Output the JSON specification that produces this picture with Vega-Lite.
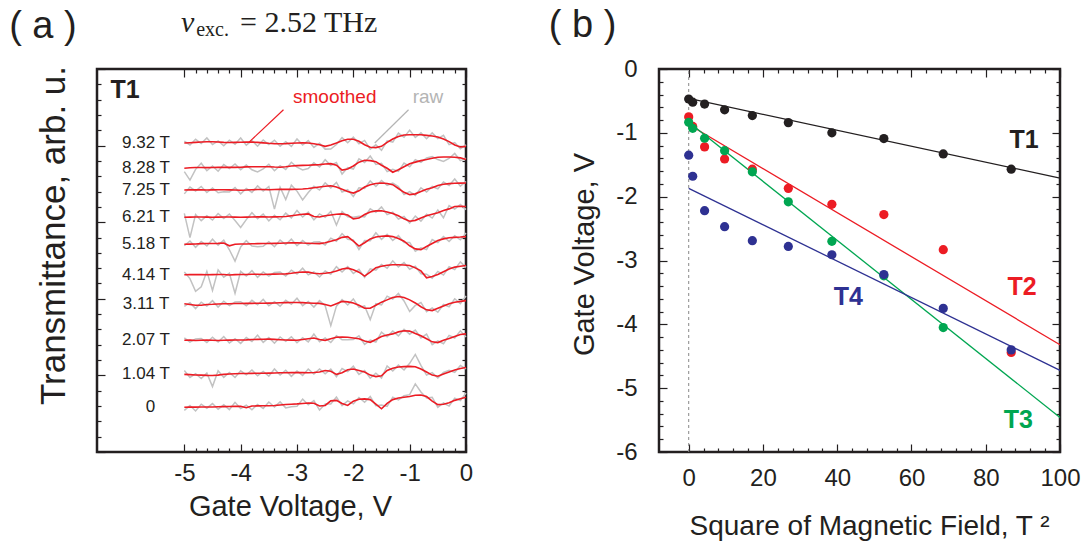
{
"$schema": "https://vega.github.io/schema/vega-lite/v6.json",
"padding": {"left": 7, "top": 5, "right": 5, "bottom": 5},
"background": "white",
"spacing": 193,
"bounds": "flush",
"config": {
  "view": {"stroke": "#231f20", "strokeWidth": 2.5},
  "axis": {"domain": false, "grid": false, "tickColor": "#231f20", "tickWidth": 1.2, "labelFont": "Liberation Sans", "labelFontSize": 24, "labelColor": "#231f20", "titleFont": "Liberation Sans", "titleColor": "#231f20", "titleFontWeight": "normal", "labelFlush": false, "labelOverlap": false, "labelBound": false},
  "text": {"font": "Liberation Sans", "color": "#231f20"}
},
"datasets": {
"tr": [
{"t":"9.32","x":-5,"s":20.17,"r":20.29},{"t":"9.32","x":-4.9,"s":20.19,"r":20.04},{"t":"9.32","x":-4.8,"s":20.21,"r":20.41},{"t":"9.32","x":-4.7,"s":20.23,"r":20.13},{"t":"9.32","x":-4.6,"s":20.25,"r":20.50},{"t":"9.32","x":-4.5,"s":20.25,"r":20.07},{"t":"9.32","x":-4.4,"s":20.23,"r":20.31},{"t":"9.32","x":-4.3,"s":20.21,"r":19.99},{"t":"9.32","x":-4.2,"s":20.20,"r":20.35},{"t":"9.32","x":-4.1,"s":20.21,"r":20.09},
{"t":"9.32","x":-4,"s":20.22,"r":20.50},{"t":"9.32","x":-3.9,"s":20.23,"r":20.03},{"t":"9.32","x":-3.8,"s":20.23,"r":20.33},{"t":"9.32","x":-3.7,"s":20.21,"r":19.96},{"t":"9.32","x":-3.6,"s":20.18,"r":20.36},{"t":"9.32","x":-3.5,"s":20.15,"r":20.07},{"t":"9.32","x":-3.4,"s":20.13,"r":20.35},{"t":"9.32","x":-3.3,"s":20.12,"r":19.96},{"t":"9.32","x":-3.2,"s":20.13,"r":20.25},{"t":"9.32","x":-3.1,"s":20.15,"r":19.95},
{"t":"9.32","x":-3,"s":20.17,"r":20.43},{"t":"9.32","x":-2.9,"s":20.18,"r":20.04},{"t":"9.32","x":-2.8,"s":20.17,"r":20.33},{"t":"9.32","x":-2.7,"s":20.12,"r":19.88},{"t":"9.32","x":-2.6,"s":20.06,"r":20.16},{"t":"9.32","x":-2.5,"s":19.95,"r":19.77},{"t":"9.32","x":-2.4,"s":20.04,"r":19.78},{"t":"9.32","x":-2.3,"s":20.17,"r":20.07},{"t":"9.32","x":-2.2,"s":20.32,"r":20.52},{"t":"9.32","x":-2.1,"s":20.41,"r":20.19},
{"t":"9.32","x":-2,"s":20.41,"r":20.55},{"t":"9.32","x":-1.9,"s":20.28,"r":20.12},{"t":"9.32","x":-1.8,"s":20.06,"r":20.34},{"t":"9.32","x":-1.7,"s":19.89,"r":19.77},{"t":"9.32","x":-1.6,"s":19.87,"r":20.05},{"t":"9.32","x":-1.5,"s":19.95,"r":19.69},{"t":"9.32","x":-1.4,"s":20.21,"r":20.31},{"t":"9.32","x":-1.3,"s":20.43,"r":20.23},{"t":"9.32","x":-1.2,"s":20.60,"r":20.82},{"t":"9.32","x":-1.1,"s":20.69,"r":20.55},
{"t":"9.32","x":-1,"s":20.71,"r":21.01},{"t":"9.32","x":-0.9,"s":20.71,"r":20.53},{"t":"9.32","x":-0.8,"s":20.71,"r":20.83},{"t":"9.32","x":-0.7,"s":20.67,"r":20.45},{"t":"9.32","x":-0.6,"s":20.63,"r":20.83},{"t":"9.32","x":-0.5,"s":20.56,"r":20.46},{"t":"9.32","x":-0.4,"s":20.43,"r":20.67},{"t":"9.32","x":-0.3,"s":20.26,"r":20.06},{"t":"9.32","x":-0.2,"s":20.04,"r":20.20},{"t":"9.32","x":-0.1,"s":19.91,"r":19.79},{"t":"9.32","x":0,"s":19.95,"r":20.05},

{"t":"8.28","x":-5,"s":18.52,"r":18.30},{"t":"8.28","x":-4.9,"s":18.55,"r":17.75},{"t":"8.28","x":-4.8,"s":18.57,"r":18.45},{"t":"8.28","x":-4.7,"s":18.57,"r":18.85},{"t":"8.28","x":-4.6,"s":18.56,"r":18.36},{"t":"8.28","x":-4.5,"s":18.57,"r":18.67},{"t":"8.28","x":-4.4,"s":18.58,"r":18.33},{"t":"8.28","x":-4.3,"s":18.59,"r":18.77},{"t":"8.28","x":-4.2,"s":18.58,"r":18.50},{"t":"8.28","x":-4.1,"s":18.58,"r":18.80},
{"t":"8.28","x":-4,"s":18.59,"r":18.43},{"t":"8.28","x":-3.9,"s":18.61,"r":18.73},{"t":"8.28","x":-3.8,"s":18.62,"r":18.42},{"t":"8.28","x":-3.7,"s":18.62,"r":18.28},{"t":"8.28","x":-3.6,"s":18.62,"r":18.48},{"t":"8.28","x":-3.5,"s":18.62,"r":18.78},{"t":"8.28","x":-3.4,"s":18.60,"r":18.36},{"t":"8.28","x":-3.3,"s":18.59,"r":18.69},{"t":"8.28","x":-3.2,"s":18.62,"r":18.44},{"t":"8.28","x":-3.1,"s":18.67,"r":18.91},
{"t":"8.28","x":-3,"s":18.69,"r":18.59},{"t":"8.28","x":-2.9,"s":18.71,"r":18.41},{"t":"8.28","x":-2.8,"s":18.72,"r":18.50},{"t":"8.28","x":-2.7,"s":18.74,"r":18.88},{"t":"8.28","x":-2.6,"s":18.76,"r":18.60},{"t":"8.28","x":-2.5,"s":18.80,"r":19.08},{"t":"8.28","x":-2.4,"s":18.82,"r":18.70},{"t":"8.28","x":-2.3,"s":18.72,"r":18.90},{"t":"8.28","x":-2.2,"s":18.40,"r":18.14},{"t":"8.28","x":-2.1,"s":18.47,"r":18.57},
{"t":"8.28","x":-2,"s":18.67,"r":18.47},{"t":"8.28","x":-1.9,"s":18.92,"r":19.14},{"t":"8.28","x":-1.8,"s":19.04,"r":18.90},{"t":"8.28","x":-1.7,"s":19.02,"r":19.32},{"t":"8.28","x":-1.6,"s":18.95,"r":18.77},{"t":"8.28","x":-1.5,"s":18.72,"r":18.84},{"t":"8.28","x":-1.4,"s":18.52,"r":18.30},{"t":"8.28","x":-1.3,"s":18.26,"r":18.46},{"t":"8.28","x":-1.2,"s":18.42,"r":18.32},{"t":"8.28","x":-1.1,"s":18.62,"r":18.86},
{"t":"8.28","x":-1,"s":18.82,"r":18.62},{"t":"8.28","x":-0.9,"s":18.92,"r":19.08},{"t":"8.28","x":-0.8,"s":19.02,"r":18.90},{"t":"8.28","x":-0.7,"s":19.09,"r":19.19},{"t":"8.28","x":-0.6,"s":19.17,"r":19.29},{"t":"8.28","x":-0.5,"s":19.24,"r":19.09},{"t":"8.28","x":-0.4,"s":19.26,"r":18.96},{"t":"8.28","x":-0.3,"s":19.26,"r":19.16},{"t":"8.28","x":-0.2,"s":19.24,"r":19.49},{"t":"8.28","x":-0.1,"s":19.20,"r":19.02},{"t":"8.28","x":0,"s":19.09,"r":19.17},

{"t":"7.25","x":-5,"s":17.10,"r":16.85},{"t":"7.25","x":-4.9,"s":17.11,"r":17.29},{"t":"7.25","x":-4.8,"s":17.12,"r":17.04},{"t":"7.25","x":-4.7,"s":17.11,"r":17.33},{"t":"7.25","x":-4.6,"s":17.10,"r":16.94},{"t":"7.25","x":-4.5,"s":17.11,"r":17.23},{"t":"7.25","x":-4.4,"s":17.12,"r":16.92},{"t":"7.25","x":-4.3,"s":17.12,"r":16.98},{"t":"7.25","x":-4.2,"s":17.11,"r":16.97},{"t":"7.25","x":-4.1,"s":17.10,"r":17.26},
{"t":"7.25","x":-4,"s":17.09,"r":16.85},{"t":"7.25","x":-3.9,"s":17.10,"r":17.20},{"t":"7.25","x":-3.8,"s":17.12,"r":16.94},{"t":"7.25","x":-3.7,"s":17.13,"r":17.37},{"t":"7.25","x":-3.6,"s":17.13,"r":17.03},{"t":"7.25","x":-3.5,"s":17.12,"r":17.32},{"t":"7.25","x":-3.4,"s":17.13,"r":15.85},{"t":"7.25","x":-3.3,"s":17.14,"r":17.28},{"t":"7.25","x":-3.2,"s":17.14,"r":16.48},{"t":"7.25","x":-3.1,"s":17.14,"r":17.42},
{"t":"7.25","x":-3,"s":17.15,"r":17.03},{"t":"7.25","x":-2.9,"s":17.17,"r":16.45},{"t":"7.25","x":-2.8,"s":17.20,"r":16.94},{"t":"7.25","x":-2.7,"s":17.25,"r":17.35},{"t":"7.25","x":-2.6,"s":17.30,"r":17.10},{"t":"7.25","x":-2.5,"s":17.35,"r":17.57},{"t":"7.25","x":-2.4,"s":17.38,"r":17.24},{"t":"7.25","x":-2.3,"s":17.30,"r":17.60},{"t":"7.25","x":-2.2,"s":17.15,"r":16.97},{"t":"7.25","x":-2.1,"s":17.00,"r":17.12},
{"t":"7.25","x":-2,"s":16.90,"r":16.68},{"t":"7.25","x":-1.9,"s":17.05,"r":17.25},{"t":"7.25","x":-1.8,"s":17.30,"r":17.20},{"t":"7.25","x":-1.7,"s":17.45,"r":17.69},{"t":"7.25","x":-1.6,"s":17.53,"r":17.33},{"t":"7.25","x":-1.5,"s":17.56,"r":17.72},{"t":"7.25","x":-1.4,"s":17.53,"r":17.41},{"t":"7.25","x":-1.3,"s":17.45,"r":17.55},{"t":"7.25","x":-1.2,"s":17.20,"r":17.32},{"t":"7.25","x":-1.1,"s":16.95,"r":16.80},
{"t":"7.25","x":-1,"s":16.80,"r":17.00},{"t":"7.25","x":-0.9,"s":16.85,"r":16.75},{"t":"7.25","x":-0.8,"s":17.00,"r":17.25},{"t":"7.25","x":-0.7,"s":17.15,"r":16.97},{"t":"7.25","x":-0.6,"s":17.25,"r":17.33},{"t":"7.25","x":-0.5,"s":17.40,"r":17.18},{"t":"7.25","x":-0.4,"s":17.48,"r":17.63},{"t":"7.25","x":-0.3,"s":17.52,"r":17.40},{"t":"7.25","x":-0.2,"s":17.54,"r":17.82},{"t":"7.25","x":-0.1,"s":17.55,"r":17.35},{"t":"7.25","x":0,"s":17.56,"r":17.66},

{"t":"6.21","x":-5,"s":15.32,"r":15.58},{"t":"6.21","x":-4.9,"s":15.33,"r":13.99},{"t":"6.21","x":-4.8,"s":15.34,"r":15.50},{"t":"6.21","x":-4.7,"s":15.34,"r":15.10},{"t":"6.21","x":-4.6,"s":15.33,"r":15.43},{"t":"6.21","x":-4.5,"s":15.32,"r":15.14},{"t":"6.21","x":-4.4,"s":15.33,"r":15.57},{"t":"6.21","x":-4.3,"s":15.34,"r":15.24},{"t":"6.21","x":-4.2,"s":15.34,"r":15.54},{"t":"6.21","x":-4.1,"s":15.33,"r":15.11},
{"t":"6.21","x":-4,"s":15.32,"r":14.66},{"t":"6.21","x":-3.9,"s":15.33,"r":15.17},{"t":"6.21","x":-3.8,"s":15.34,"r":15.62},{"t":"6.21","x":-3.7,"s":15.35,"r":15.23},{"t":"6.21","x":-3.6,"s":15.35,"r":15.53},{"t":"6.21","x":-3.5,"s":15.34,"r":15.08},{"t":"6.21","x":-3.4,"s":15.35,"r":15.45},{"t":"6.21","x":-3.3,"s":15.36,"r":15.16},{"t":"6.21","x":-3.2,"s":15.37,"r":15.59},{"t":"6.21","x":-3.1,"s":15.42,"r":15.28},
{"t":"6.21","x":-3,"s":15.47,"r":15.77},{"t":"6.21","x":-2.9,"s":15.52,"r":15.34},{"t":"6.21","x":-2.8,"s":15.54,"r":15.66},{"t":"6.21","x":-2.7,"s":15.37,"r":15.15},{"t":"6.21","x":-2.6,"s":15.34,"r":15.54},{"t":"6.21","x":-2.5,"s":15.42,"r":15.32},{"t":"6.21","x":-2.4,"s":15.47,"r":15.71},{"t":"6.21","x":-2.3,"s":15.52,"r":14.82},{"t":"6.21","x":-2.2,"s":15.54,"r":15.70},{"t":"6.21","x":-2.1,"s":15.47,"r":15.35},
{"t":"6.21","x":-2,"s":15.22,"r":15.32},{"t":"6.21","x":-1.9,"s":15.27,"r":15.39},{"t":"6.21","x":-1.8,"s":15.50,"r":15.35},{"t":"6.21","x":-1.7,"s":15.67,"r":15.87},{"t":"6.21","x":-1.6,"s":15.74,"r":15.64},{"t":"6.21","x":-1.5,"s":15.75,"r":16.00},{"t":"6.21","x":-1.4,"s":15.67,"r":15.49},{"t":"6.21","x":-1.3,"s":15.57,"r":15.65},{"t":"6.21","x":-1.2,"s":15.42,"r":15.20},{"t":"6.21","x":-1.1,"s":15.22,"r":15.37},
{"t":"6.21","x":-1,"s":15.06,"r":14.94},{"t":"6.21","x":-0.9,"s":15.12,"r":15.40},{"t":"6.21","x":-0.8,"s":15.27,"r":15.07},{"t":"6.21","x":-0.7,"s":15.42,"r":15.52},{"t":"6.21","x":-0.6,"s":15.52,"r":15.27},{"t":"6.21","x":-0.5,"s":15.62,"r":15.80},{"t":"6.21","x":-0.4,"s":15.77,"r":15.29},{"t":"6.21","x":-0.3,"s":15.87,"r":16.09},{"t":"6.21","x":-0.2,"s":16.02,"r":15.86},{"t":"6.21","x":-0.1,"s":16.04,"r":16.16},{"t":"6.21","x":0,"s":16.02,"r":15.82},

{"t":"5.18","x":-5,"s":13.56,"r":13.46},{"t":"5.18","x":-4.9,"s":13.57,"r":13.77},{"t":"5.18","x":-4.8,"s":13.58,"r":13.36},{"t":"5.18","x":-4.7,"s":13.60,"r":13.74},{"t":"5.18","x":-4.6,"s":13.61,"r":13.45},{"t":"5.18","x":-4.5,"s":13.61,"r":13.89},{"t":"5.18","x":-4.4,"s":13.62,"r":13.50},{"t":"5.18","x":-4.3,"s":13.64,"r":13.82},{"t":"5.18","x":-4.2,"s":13.46,"r":13.20},{"t":"5.18","x":-4.1,"s":13.56,"r":12.46},
{"t":"5.18","x":-4,"s":13.58,"r":13.38},{"t":"5.18","x":-3.9,"s":13.58,"r":13.80},{"t":"5.18","x":-3.8,"s":13.59,"r":13.45},{"t":"5.18","x":-3.7,"s":13.60,"r":13.40},{"t":"5.18","x":-3.6,"s":13.61,"r":13.43},{"t":"5.18","x":-3.5,"s":13.61,"r":13.73},{"t":"5.18","x":-3.4,"s":13.62,"r":13.40},{"t":"5.18","x":-3.3,"s":13.63,"r":13.83},{"t":"5.18","x":-3.2,"s":13.64,"r":13.54},{"t":"5.18","x":-3.1,"s":13.65,"r":13.89},
{"t":"5.18","x":-3,"s":13.66,"r":13.46},{"t":"5.18","x":-2.9,"s":13.64,"r":13.80},{"t":"5.18","x":-2.8,"s":13.63,"r":13.51},{"t":"5.18","x":-2.7,"s":13.61,"r":13.71},{"t":"5.18","x":-2.6,"s":13.60,"r":13.72},{"t":"5.18","x":-2.5,"s":13.66,"r":13.51},{"t":"5.18","x":-2.4,"s":13.76,"r":13.96},{"t":"5.18","x":-2.3,"s":13.86,"r":13.76},{"t":"5.18","x":-2.2,"s":14.01,"r":14.26},{"t":"5.18","x":-2.1,"s":14.06,"r":13.88},
{"t":"5.18","x":-2,"s":13.76,"r":13.84},{"t":"5.18","x":-1.9,"s":13.44,"r":13.22},{"t":"5.18","x":-1.8,"s":13.66,"r":13.81},{"t":"5.18","x":-1.7,"s":13.91,"r":13.79},{"t":"5.18","x":-1.6,"s":14.03,"r":14.31},{"t":"5.18","x":-1.5,"s":14.08,"r":13.88},{"t":"5.18","x":-1.4,"s":14.11,"r":14.21},{"t":"5.18","x":-1.3,"s":14.06,"r":13.81},{"t":"5.18","x":-1.2,"s":13.94,"r":14.12},{"t":"5.18","x":-1.1,"s":13.76,"r":13.68},
{"t":"5.18","x":-1,"s":13.46,"r":13.68},{"t":"5.18","x":-0.9,"s":13.26,"r":13.10},{"t":"5.18","x":-0.8,"s":13.21,"r":13.33},{"t":"5.18","x":-0.7,"s":13.41,"r":13.21},{"t":"5.18","x":-0.6,"s":13.61,"r":13.87},{"t":"5.18","x":-0.5,"s":13.81,"r":13.67},{"t":"5.18","x":-0.4,"s":13.91,"r":14.07},{"t":"5.18","x":-0.3,"s":13.98,"r":13.74},{"t":"5.18","x":-0.2,"s":14.01,"r":14.11},{"t":"5.18","x":-0.1,"s":14.03,"r":13.85},{"t":"5.18","x":0,"s":14.06,"r":14.30},

{"t":"4.14","x":-5,"s":11.57,"r":11.75},{"t":"4.14","x":-4.9,"s":11.58,"r":11.32},{"t":"4.14","x":-4.8,"s":11.59,"r":10.49},{"t":"4.14","x":-4.7,"s":11.58,"r":10.78},{"t":"4.14","x":-4.6,"s":11.57,"r":11.79},{"t":"4.14","x":-4.5,"s":11.58,"r":10.54},{"t":"4.14","x":-4.4,"s":11.59,"r":11.89},{"t":"4.14","x":-4.3,"s":11.59,"r":11.41},{"t":"4.14","x":-4.2,"s":11.55,"r":11.67},{"t":"4.14","x":-4.1,"s":11.58,"r":10.36},
{"t":"4.14","x":-4,"s":11.59,"r":11.79},{"t":"4.14","x":-3.9,"s":11.59,"r":11.49},{"t":"4.14","x":-3.8,"s":11.60,"r":11.84},{"t":"4.14","x":-3.7,"s":11.60,"r":11.40},{"t":"4.14","x":-3.6,"s":11.59,"r":11.75},{"t":"4.14","x":-3.5,"s":11.60,"r":11.48},{"t":"4.14","x":-3.4,"s":11.61,"r":11.71},{"t":"4.14","x":-3.3,"s":11.62,"r":11.74},{"t":"4.14","x":-3.2,"s":11.63,"r":11.48},{"t":"4.14","x":-3.1,"s":11.67,"r":11.87},
{"t":"4.14","x":-3,"s":11.72,"r":11.62},{"t":"4.14","x":-2.9,"s":11.75,"r":12.00},{"t":"4.14","x":-2.8,"s":11.74,"r":11.56},{"t":"4.14","x":-2.7,"s":11.67,"r":11.75},{"t":"4.14","x":-2.6,"s":11.64,"r":11.42},{"t":"4.14","x":-2.5,"s":11.67,"r":11.82},{"t":"4.14","x":-2.4,"s":11.72,"r":11.60},{"t":"4.14","x":-2.3,"s":11.82,"r":12.10},{"t":"4.14","x":-2.2,"s":11.95,"r":11.75},{"t":"4.14","x":-2.1,"s":12.00,"r":12.10},
{"t":"4.14","x":-2,"s":11.90,"r":11.65},{"t":"4.14","x":-1.9,"s":11.74,"r":11.92},{"t":"4.14","x":-1.8,"s":11.48,"r":11.40},{"t":"4.14","x":-1.7,"s":11.74,"r":11.96},{"t":"4.14","x":-1.6,"s":12.03,"r":11.87},{"t":"4.14","x":-1.5,"s":12.12,"r":12.24},{"t":"4.14","x":-1.4,"s":12.19,"r":11.99},{"t":"4.14","x":-1.3,"s":12.22,"r":12.48},{"t":"4.14","x":-1.2,"s":12.22,"r":12.08},{"t":"4.14","x":-1.1,"s":12.21,"r":12.37},
{"t":"4.14","x":-1,"s":12.17,"r":11.93},{"t":"4.14","x":-0.9,"s":12.02,"r":12.12},{"t":"4.14","x":-0.8,"s":11.82,"r":11.64},{"t":"4.14","x":-0.7,"s":11.37,"r":11.61},{"t":"4.14","x":-0.6,"s":11.45,"r":11.35},{"t":"4.14","x":-0.5,"s":11.59,"r":11.79},{"t":"4.14","x":-0.4,"s":11.77,"r":11.55},{"t":"4.14","x":-0.3,"s":11.95,"r":12.09},{"t":"4.14","x":-0.2,"s":12.07,"r":11.91},{"t":"4.14","x":-0.1,"s":12.13,"r":12.41},{"t":"4.14","x":0,"s":12.17,"r":12.05},

{"t":"3.11","x":-5,"s":9.68,"r":9.50},{"t":"3.11","x":-4.9,"s":9.63,"r":9.75},{"t":"3.11","x":-4.8,"s":9.58,"r":9.36},{"t":"3.11","x":-4.7,"s":9.58,"r":9.78},{"t":"3.11","x":-4.6,"s":9.63,"r":9.53},{"t":"3.11","x":-4.5,"s":9.64,"r":9.88},{"t":"3.11","x":-4.4,"s":9.66,"r":9.46},{"t":"3.11","x":-4.3,"s":9.68,"r":9.84},{"t":"3.11","x":-4.2,"s":9.68,"r":9.56},{"t":"3.11","x":-4.1,"s":9.69,"r":9.79},
{"t":"3.11","x":-4,"s":9.69,"r":9.81},{"t":"3.11","x":-3.9,"s":9.70,"r":9.55},{"t":"3.11","x":-3.8,"s":9.70,"r":9.90},{"t":"3.11","x":-3.7,"s":9.71,"r":9.61},{"t":"3.11","x":-3.6,"s":9.71,"r":9.96},{"t":"3.11","x":-3.5,"s":9.72,"r":9.54},{"t":"3.11","x":-3.4,"s":9.73,"r":9.81},{"t":"3.11","x":-3.3,"s":9.74,"r":9.52},{"t":"3.11","x":-3.2,"s":9.75,"r":9.90},{"t":"3.11","x":-3.1,"s":9.76,"r":9.64},
{"t":"3.11","x":-3,"s":9.76,"r":10.04},{"t":"3.11","x":-2.9,"s":9.75,"r":9.55},{"t":"3.11","x":-2.8,"s":9.73,"r":9.83},{"t":"3.11","x":-2.7,"s":9.71,"r":9.46},{"t":"3.11","x":-2.6,"s":9.70,"r":9.88},{"t":"3.11","x":-2.5,"s":9.63,"r":9.55},{"t":"3.11","x":-2.4,"s":9.53,"r":8.25},{"t":"3.11","x":-2.3,"s":9.68,"r":9.52},{"t":"3.11","x":-2.2,"s":9.83,"r":9.95},{"t":"3.11","x":-2.1,"s":9.80,"r":9.60},
{"t":"3.11","x":-2,"s":9.73,"r":9.99},{"t":"3.11","x":-1.9,"s":9.58,"r":9.44},{"t":"3.11","x":-1.8,"s":9.38,"r":9.54},{"t":"3.11","x":-1.7,"s":9.38,"r":8.64},{"t":"3.11","x":-1.6,"s":9.58,"r":9.68},{"t":"3.11","x":-1.5,"s":9.78,"r":9.60},{"t":"3.11","x":-1.4,"s":9.93,"r":10.17},{"t":"3.11","x":-1.3,"s":10.08,"r":9.98},{"t":"3.11","x":-1.2,"s":10.15,"r":10.35},{"t":"3.11","x":-1.1,"s":10.08,"r":9.86},
{"t":"3.11","x":-1,"s":9.93,"r":9.17},{"t":"3.11","x":-0.9,"s":9.73,"r":9.57},{"t":"3.11","x":-0.8,"s":9.48,"r":9.76},{"t":"3.11","x":-0.7,"s":9.28,"r":9.16},{"t":"3.11","x":-0.6,"s":9.23,"r":9.41},{"t":"3.11","x":-0.5,"s":9.38,"r":9.12},{"t":"3.11","x":-0.4,"s":9.53,"r":9.63},{"t":"3.11","x":-0.3,"s":9.68,"r":9.48},{"t":"3.11","x":-0.2,"s":9.78,"r":10.00},{"t":"3.11","x":-0.1,"s":9.83,"r":9.69},{"t":"3.11","x":0,"s":9.88,"r":10.18},

{"t":"2.07","x":-5,"s":7.29,"r":7.45},{"t":"2.07","x":-4.9,"s":7.30,"r":7.18},{"t":"2.07","x":-4.8,"s":7.28,"r":7.38},{"t":"2.07","x":-4.7,"s":7.29,"r":7.41},{"t":"2.07","x":-4.6,"s":7.30,"r":7.15},{"t":"2.07","x":-4.5,"s":7.29,"r":7.49},{"t":"2.07","x":-4.4,"s":7.28,"r":7.18},{"t":"2.07","x":-4.3,"s":7.29,"r":7.54},{"t":"2.07","x":-4.2,"s":7.30,"r":7.12},{"t":"2.07","x":-4.1,"s":7.31,"r":7.39},
{"t":"2.07","x":-4,"s":7.31,"r":7.09},{"t":"2.07","x":-3.9,"s":7.32,"r":7.47},{"t":"2.07","x":-3.8,"s":7.34,"r":7.22},{"t":"2.07","x":-3.7,"s":7.35,"r":7.63},{"t":"2.07","x":-3.6,"s":7.36,"r":7.16},{"t":"2.07","x":-3.5,"s":7.37,"r":7.47},{"t":"2.07","x":-3.4,"s":7.35,"r":7.10},{"t":"2.07","x":-3.3,"s":7.33,"r":7.51},{"t":"2.07","x":-3.2,"s":7.31,"r":7.23},{"t":"2.07","x":-3.1,"s":7.30,"r":7.52},
{"t":"2.07","x":-3,"s":7.29,"r":7.13},{"t":"2.07","x":-2.9,"s":7.34,"r":7.46},{"t":"2.07","x":-2.8,"s":7.39,"r":7.19},{"t":"2.07","x":-2.7,"s":7.44,"r":7.70},{"t":"2.07","x":-2.6,"s":7.34,"r":7.20},{"t":"2.07","x":-2.5,"s":7.29,"r":7.45},{"t":"2.07","x":-2.4,"s":7.39,"r":7.15},{"t":"2.07","x":-2.3,"s":7.49,"r":7.59},{"t":"2.07","x":-2.2,"s":7.51,"r":7.33},{"t":"2.07","x":-2.1,"s":7.49,"r":7.33},
{"t":"2.07","x":-2,"s":7.44,"r":7.34},{"t":"2.07","x":-1.9,"s":7.39,"r":7.59},{"t":"2.07","x":-1.8,"s":7.24,"r":7.02},{"t":"2.07","x":-1.7,"s":7.16,"r":7.30},{"t":"2.07","x":-1.6,"s":7.34,"r":7.18},{"t":"2.07","x":-1.5,"s":7.54,"r":7.82},{"t":"2.07","x":-1.4,"s":7.64,"r":7.52},{"t":"2.07","x":-1.3,"s":7.71,"r":7.89},{"t":"2.07","x":-1.2,"s":7.84,"r":7.58},{"t":"2.07","x":-1.1,"s":7.91,"r":8.01},
{"t":"2.07","x":-1,"s":7.89,"r":7.69},{"t":"2.07","x":-0.9,"s":7.74,"r":7.96},{"t":"2.07","x":-0.8,"s":7.59,"r":7.45},{"t":"2.07","x":-0.7,"s":7.39,"r":7.69},{"t":"2.07","x":-0.6,"s":7.19,"r":7.01},{"t":"2.07","x":-0.5,"s":7.14,"r":7.26},{"t":"2.07","x":-0.4,"s":7.29,"r":7.07},{"t":"2.07","x":-0.3,"s":7.41,"r":7.61},{"t":"2.07","x":-0.2,"s":7.54,"r":7.44},{"t":"2.07","x":-0.1,"s":7.67,"r":7.91},{"t":"2.07","x":0,"s":7.71,"r":7.51},

{"t":"1.04","x":-5,"s":5.07,"r":5.32},{"t":"1.04","x":-4.9,"s":5.05,"r":4.87},{"t":"1.04","x":-4.8,"s":5.03,"r":5.11},{"t":"1.04","x":-4.7,"s":5.02,"r":4.80},{"t":"1.04","x":-4.6,"s":5.00,"r":5.15},{"t":"1.04","x":-4.5,"s":4.99,"r":4.27},{"t":"1.04","x":-4.4,"s":5.02,"r":5.30},{"t":"1.04","x":-4.3,"s":5.07,"r":4.87},{"t":"1.04","x":-4.2,"s":5.09,"r":5.19},{"t":"1.04","x":-4.1,"s":5.11,"r":4.86},
{"t":"1.04","x":-4,"s":5.12,"r":5.30},{"t":"1.04","x":-3.9,"s":5.12,"r":5.04},{"t":"1.04","x":-3.8,"s":5.13,"r":5.35},{"t":"1.04","x":-3.7,"s":5.14,"r":4.98},{"t":"1.04","x":-3.6,"s":5.14,"r":5.26},{"t":"1.04","x":-3.5,"s":5.15,"r":4.95},{"t":"1.04","x":-3.4,"s":5.16,"r":5.42},{"t":"1.04","x":-3.3,"s":5.17,"r":5.03},{"t":"1.04","x":-3.2,"s":5.17,"r":5.33},{"t":"1.04","x":-3.1,"s":5.18,"r":4.94},
{"t":"1.04","x":-3,"s":5.19,"r":5.29},{"t":"1.04","x":-2.9,"s":5.18,"r":5.00},{"t":"1.04","x":-2.8,"s":5.17,"r":5.41},{"t":"1.04","x":-2.7,"s":5.19,"r":5.09},{"t":"1.04","x":-2.6,"s":5.22,"r":5.42},{"t":"1.04","x":-2.5,"s":5.32,"r":5.10},{"t":"1.04","x":-2.4,"s":5.27,"r":5.41},{"t":"1.04","x":-2.3,"s":5.07,"r":4.91},{"t":"1.04","x":-2.2,"s":5.17,"r":5.45},{"t":"1.04","x":-2.1,"s":5.37,"r":5.25},
{"t":"1.04","x":-2,"s":5.42,"r":5.60},{"t":"1.04","x":-1.9,"s":5.32,"r":5.06},{"t":"1.04","x":-1.8,"s":5.22,"r":5.32},{"t":"1.04","x":-1.7,"s":5.02,"r":4.82},{"t":"1.04","x":-1.6,"s":4.92,"r":5.14},{"t":"1.04","x":-1.5,"s":4.97,"r":4.83},{"t":"1.04","x":-1.4,"s":5.32,"r":5.62},{"t":"1.04","x":-1.3,"s":5.47,"r":5.29},{"t":"1.04","x":-1.2,"s":5.55,"r":5.67},{"t":"1.04","x":-1.1,"s":5.57,"r":5.35},
{"t":"1.04","x":-1,"s":5.59,"r":5.79},{"t":"1.04","x":-0.9,"s":5.57,"r":6.37},{"t":"1.04","x":-0.8,"s":5.42,"r":5.66},{"t":"1.04","x":-0.7,"s":5.22,"r":5.02},{"t":"1.04","x":-0.6,"s":5.02,"r":5.18},{"t":"1.04","x":-0.5,"s":4.95,"r":4.83},{"t":"1.04","x":-0.4,"s":5.09,"r":5.19},{"t":"1.04","x":-0.3,"s":5.22,"r":5.34},{"t":"1.04","x":-0.2,"s":5.35,"r":5.20},{"t":"1.04","x":-0.1,"s":5.45,"r":5.65},{"t":"1.04","x":0,"s":5.52,"r":5.42},

{"t":"0","x":-5,"s":2.92,"r":2.72},{"t":"0","x":-4.9,"s":2.93,"r":3.03},{"t":"0","x":-4.8,"s":2.93,"r":2.68},{"t":"0","x":-4.7,"s":2.94,"r":3.12},{"t":"0","x":-4.6,"s":2.94,"r":2.86},{"t":"0","x":-4.5,"s":2.94,"r":3.16},{"t":"0","x":-4.4,"s":2.95,"r":2.79},{"t":"0","x":-4.3,"s":2.96,"r":3.08},{"t":"0","x":-4.2,"s":2.97,"r":2.77},{"t":"0","x":-4.1,"s":2.98,"r":3.24},
{"t":"0","x":-4,"s":2.98,"r":2.84},{"t":"0","x":-3.9,"s":2.89,"r":3.05},{"t":"0","x":-3.8,"s":3.00,"r":2.76},{"t":"0","x":-3.7,"s":3.01,"r":3.11},{"t":"0","x":-3.6,"s":3.02,"r":2.84},{"t":"0","x":-3.5,"s":3.02,"r":3.26},{"t":"0","x":-3.4,"s":3.04,"r":2.94},{"t":"0","x":-3.3,"s":3.07,"r":3.27},{"t":"0","x":-3.2,"s":3.10,"r":2.88},{"t":"0","x":-3.1,"s":3.12,"r":2.96},
{"t":"0","x":-3,"s":3.14,"r":2.98},{"t":"0","x":-2.9,"s":3.17,"r":3.45},{"t":"0","x":-2.8,"s":3.20,"r":3.08},{"t":"0","x":-2.7,"s":3.18,"r":3.36},{"t":"0","x":-2.6,"s":3.00,"r":2.74},{"t":"0","x":-2.5,"s":3.04,"r":3.14},{"t":"0","x":-2.4,"s":3.34,"r":3.14},{"t":"0","x":-2.3,"s":3.37,"r":3.59},{"t":"0","x":-2.2,"s":3.17,"r":3.03},{"t":"0","x":-2.1,"s":3.04,"r":3.34},
{"t":"0","x":-2,"s":3.32,"r":3.14},{"t":"0","x":-1.9,"s":3.44,"r":3.56},{"t":"0","x":-1.8,"s":3.47,"r":3.25},{"t":"0","x":-1.7,"s":3.42,"r":3.62},{"t":"0","x":-1.6,"s":3.12,"r":3.02},{"t":"0","x":-1.5,"s":2.82,"r":3.06},{"t":"0","x":-1.4,"s":3.17,"r":2.97},{"t":"0","x":-1.3,"s":3.42,"r":3.58},{"t":"0","x":-1.2,"s":3.52,"r":3.40},{"t":"0","x":-1.1,"s":3.57,"r":3.67},
{"t":"0","x":-1,"s":3.62,"r":3.74},{"t":"0","x":-0.9,"s":3.70,"r":4.45},{"t":"0","x":-0.8,"s":3.72,"r":3.92},{"t":"0","x":-0.7,"s":3.62,"r":3.52},{"t":"0","x":-0.6,"s":3.32,"r":3.57},{"t":"0","x":-0.5,"s":3.09,"r":2.91},{"t":"0","x":-0.4,"s":3.12,"r":3.20},{"t":"0","x":-0.3,"s":3.22,"r":3.00},{"t":"0","x":-0.2,"s":3.37,"r":3.52},{"t":"0","x":-0.1,"s":3.47,"r":3.35},{"t":"0","x":0,"s":3.57,"r":3.85}
],
"pts": [
{"s":"T2","x":0,"y":-0.75},{"s":"T2","x":1.08,"y":-0.90},{"s":"T2","x":4.28,"y":-1.22},{"s":"T2","x":9.67,"y":-1.41},{"s":"T2","x":17.14,"y":-1.57},{"s":"T2","x":26.83,"y":-1.87},{"s":"T2","x":38.56,"y":-2.12},{"s":"T2","x":52.56,"y":-2.28},{"s":"T2","x":68.56,"y":-2.83},{"s":"T2","x":86.86,"y":-4.44},
{"s":"T3","x":0,"y":-0.835},{"s":"T3","x":1.08,"y":-0.93},{"s":"T3","x":4.28,"y":-1.085},{"s":"T3","x":9.67,"y":-1.28},{"s":"T3","x":17.14,"y":-1.61},{"s":"T3","x":26.83,"y":-2.08},{"s":"T3","x":38.56,"y":-2.70},{"s":"T3","x":52.56,"y":-3.24},{"s":"T3","x":68.56,"y":-4.05},
{"s":"T4","x":0,"y":-1.35},{"s":"T4","x":1.08,"y":-1.68},{"s":"T4","x":4.28,"y":-2.22},{"s":"T4","x":9.67,"y":-2.47},{"s":"T4","x":17.14,"y":-2.69},{"s":"T4","x":26.83,"y":-2.78},{"s":"T4","x":38.56,"y":-2.91},{"s":"T4","x":52.56,"y":-3.22},{"s":"T4","x":68.56,"y":-3.75},{"s":"T4","x":86.86,"y":-4.40},
{"s":"T1","x":0,"y":-0.47},{"s":"T1","x":1.08,"y":-0.52},{"s":"T1","x":4.28,"y":-0.55},{"s":"T1","x":9.67,"y":-0.64},{"s":"T1","x":17.14,"y":-0.73},{"s":"T1","x":26.83,"y":-0.84},{"s":"T1","x":38.56,"y":-1.0},{"s":"T1","x":52.56,"y":-1.09},{"s":"T1","x":68.56,"y":-1.33},{"s":"T1","x":86.86,"y":-1.57}
],
"fit": [
{"s":"T1","x":0,"y":-0.46},{"s":"T1","x":100,"y":-1.71},
{"s":"T2","x":0,"y":-0.87},{"s":"T2","x":100,"y":-4.32},
{"s":"T3","x":0,"y":-0.835},{"s":"T3","x":100,"y":-5.46},
{"s":"T4","x":0,"y":-1.87},{"s":"T4","x":100,"y":-4.72}
]
},
"hconcat": [
{
"width": 369, "height": 383,
"encoding": {
  "x": {"field": "x", "type": "quantitative", "scale": {"domain": [-6.55, 0], "nice": false, "zero": false}, "axis": null},
  "y": {"field": "y", "type": "quantitative", "scale": {"domain": [0, 25], "nice": false, "zero": false}, "axis": null}
},
"layer": [
  {"data": {"name": "tr"}, "mark": {"type": "line", "color": "#c2c2c2", "strokeWidth": 1.5},
   "encoding": {
     "x": {"field": "x", "type": "quantitative", "scale": {"domain": [-6.55, 0], "nice": false, "zero": false},
       "axis": {"orient": "bottom", "values": [-5,-4.8,-4.6,-4.4,-4.2,-4,-3.8,-3.6,-3.4,-3.2,-3,-2.8,-2.6,-2.4,-2.2,-2,-1.8,-1.6,-1.4,-1.2,-1,-0.8,-0.6,-0.4,-0.2,0],
         "labelExpr": "datum.value % 1 === 0 ? '' + datum.value : ''",
         "tickSize": {"condition": {"test": "datum.value % 1 === 0", "value": -8}, "value": -4},
         "labelBaseline": "alphabetic", "labelPadding": 36,
         "title": "Gate Voltage, V", "titleFontSize": 29, "titleX": 193, "titleY": 63, "titleBaseline": "alphabetic", "titleAlign": "center"}},
     "y": {"field": "r", "type": "quantitative", "scale": {"domain": [0, 25], "nice": false, "zero": false},
       "axis": {"orient": "left", "values": [0,1,2,3,4,5,6,7,8,9,10,11,12,13,14,15,16,17,18,19,20,21,22,23,24,25],
         "labels": false,
         "tickSize": {"condition": {"test": "datum.value % 5 === 0", "value": -8}, "value": -4},
         "title": "Transmittance, arb. u.", "titleFontSize": 35, "titleX": -33, "titleY": 166, "titleBaseline": "alphabetic", "titleAlign": "center", "titleAngle": -90}},
     "detail": {"field": "t"}
   }},
  {"data": {"name": "tr"}, "mark": {"type": "line", "color": "#ec1c24", "strokeWidth": 1.6},
   "encoding": {
     "x": {"field": "x", "type": "quantitative", "scale": {"domain": [-6.55, 0], "nice": false, "zero": false},
       "axis": {"orient": "top", "values": [-5,-4.8,-4.6,-4.4,-4.2,-4,-3.8,-3.6,-3.4,-3.2,-3,-2.8,-2.6,-2.4,-2.2,-2,-1.8,-1.6,-1.4,-1.2,-1,-0.8,-0.6,-0.4,-0.2,0],
         "labels": false, "title": null,
         "tickSize": {"condition": {"test": "datum.value % 1 === 0", "value": -8}, "value": -4}}},
     "y": {"field": "s", "type": "quantitative", "scale": {"domain": [0, 25], "nice": false, "zero": false},
       "axis": {"orient": "right", "values": [0,1,2,3,4,5,6,7,8,9,10,11,12,13,14,15,16,17,18,19,20,21,22,23,24,25],
         "labels": false, "title": null,
         "tickSize": {"condition": {"test": "datum.value % 5 === 0", "value": -8}, "value": -4}}},
     "detail": {"field": "t"}
   }},
  {"data": {"values": [{"x":-3.24,"y":22.34,"x2":-3.85,"y2":20.23}]}, "mark": {"type": "rule", "color": "#ec1c24", "strokeWidth": 1.2},
   "encoding": {"x2": {"field": "x2"}, "y2": {"field": "y2"}}},
  {"data": {"values": [{"x":-1.02,"y":22.34,"x2":-1.62,"y2":20.17}]}, "mark": {"type": "rule", "color": "#b4b4b4", "strokeWidth": 1.2},
   "encoding": {"x2": {"field": "x2"}, "y2": {"field": "y2"}}},
  {"data": {"values": [
     {"x":-5.68,"y":20.17,"l":"9.32 T"},{"x":-5.68,"y":18.52,"l":"8.28 T"},{"x":-5.68,"y":17.10,"l":"7.25 T"},{"x":-5.68,"y":15.32,"l":"6.21 T"},{"x":-5.68,"y":13.56,"l":"5.18 T"},
     {"x":-5.68,"y":11.57,"l":"4.14 T"},{"x":-5.68,"y":9.68,"l":"3.11 T"},{"x":-5.68,"y":7.29,"l":"2.07 T"},{"x":-5.68,"y":5.07,"l":"1.04 T"},{"x":-5.6,"y":2.92,"l":"0"}]},
   "mark": {"type": "text", "fontSize": 17, "align": "center", "baseline": "middle"},
   "encoding": {"text": {"field": "l"}}},
  {"data": {"values": [{"x":-6.05,"y":23.65,"l":"T1"}]},
   "mark": {"type": "text", "fontSize": 25, "fontWeight": "bold", "align": "center", "baseline": "middle"},
   "encoding": {"text": {"field": "l"}}},
  {"data": {"values": [{"x":-2.33,"y":23.2,"l":"smoothed"}]},
   "mark": {"type": "text", "fontSize": 19, "align": "center", "baseline": "middle", "color": "#ec1c24"},
   "encoding": {"text": {"field": "l"}}},
  {"data": {"values": [{"x":-0.675,"y":23.2,"l":"raw"}]},
   "mark": {"type": "text", "fontSize": 19, "align": "center", "baseline": "middle", "color": "#b4b4b4"},
   "encoding": {"text": {"field": "l"}}},
  {"data": {"values": [{"x":-7.51,"y":27.02,"l":"( a )"}]},
   "mark": {"type": "text", "fontSize": 38, "align": "center", "baseline": "alphabetic"},
   "encoding": {"text": {"field": "l"}}},
  {"data": {"values": [{"x":-5.06,"y":27.42,"l":"ν"}]},
   "mark": {"type": "text", "font": "Liberation Serif", "fontStyle": "italic", "fontSize": 30, "align": "left", "baseline": "alphabetic"},
   "encoding": {"text": {"field": "l"}}},
  {"data": {"values": [{"x":-4.79,"y":27.15,"l":"exc."}]},
   "mark": {"type": "text", "font": "Liberation Serif", "fontSize": 20, "align": "left", "baseline": "alphabetic"},
   "encoding": {"text": {"field": "l"}}},
  {"data": {"values": [{"x":-4.01,"y":27.42,"l":"= 2.52 THz"}]},
   "mark": {"type": "text", "font": "Liberation Serif", "fontSize": 30, "align": "left", "baseline": "alphabetic"},
   "encoding": {"text": {"field": "l"}}}
],
"resolve": {"axis": {"x": "independent", "y": "independent"}}
},
{
"width": 401, "height": 383,
"encoding": {
  "x": {"field": "x", "type": "quantitative", "scale": {"domain": [-8, 100], "nice": false, "zero": false}, "axis": null},
  "y": {"field": "y", "type": "quantitative", "scale": {"domain": [-6, 0], "nice": false, "zero": false}, "axis": null}
},
"layer": [
  {"data": {"values": [{"x":0,"y":-6,"y2":0}]}, "mark": {"type": "rule", "color": "#888888", "strokeWidth": 1, "strokeDash": [3, 3]},
   "encoding": {
     "x": {"field": "x", "type": "quantitative", "scale": {"domain": [-8, 100], "nice": false, "zero": false},
       "axis": {"orient": "bottom", "values": [0,4,8,12,16,20,24,28,32,36,40,44,48,52,56,60,64,68,72,76,80,84,88,92,96,100],
         "labelExpr": "datum.value % 20 === 0 ? '' + datum.value : ''",
         "tickSize": {"condition": {"test": "datum.value % 20 === 0", "value": -8}, "value": -4},
         "labelBaseline": "alphabetic", "labelPadding": 41,
         "title": "Square of Magnetic Field, T ²", "titleFontSize": 28, "titleX": 210, "titleY": 82, "titleBaseline": "alphabetic", "titleAlign": "center"}},
     "y": {"field": "y", "type": "quantitative", "scale": {"domain": [-6, 0], "nice": false, "zero": false},
       "axis": {"orient": "left", "values": [-6,-5.8,-5.6,-5.4,-5.2,-5,-4.8,-4.6,-4.4,-4.2,-4,-3.8,-3.6,-3.4,-3.2,-3,-2.8,-2.6,-2.4,-2.2,-2,-1.8,-1.6,-1.4,-1.2,-1,-0.8,-0.6,-0.4,-0.2,0],
         "labelExpr": "datum.value % 1 === 0 ? '' + datum.value : ''",
         "tickSize": {"condition": {"test": "datum.value % 1 === 0", "value": -8}, "value": -4},
         "labelPadding": 30,
         "title": "Gate Voltage, V", "titleFontSize": 29, "titleX": -66, "titleY": 185, "titleBaseline": "alphabetic", "titleAlign": "center", "titleAngle": -90}},
     "y2": {"field": "y2"}
   }},
  {"data": {"name": "fit"}, "mark": {"type": "line", "strokeWidth": 1.3},
   "encoding": {
     "x": {"field": "x", "type": "quantitative", "scale": {"domain": [-8, 100], "nice": false, "zero": false},
       "axis": {"orient": "top", "values": [0,4,8,12,16,20,24,28,32,36,40,44,48,52,56,60,64,68,72,76,80,84,88,92,96,100],
         "labels": false, "title": null,
         "tickSize": {"condition": {"test": "datum.value % 20 === 0", "value": -8}, "value": -4}}},
     "y": {"field": "y", "type": "quantitative", "scale": {"domain": [-6, 0], "nice": false, "zero": false},
       "axis": {"orient": "right", "values": [-6,-5.8,-5.6,-5.4,-5.2,-5,-4.8,-4.6,-4.4,-4.2,-4,-3.8,-3.6,-3.4,-3.2,-3,-2.8,-2.6,-2.4,-2.2,-2,-1.8,-1.6,-1.4,-1.2,-1,-0.8,-0.6,-0.4,-0.2,0],
         "labels": false, "title": null,
         "tickSize": {"condition": {"test": "datum.value % 1 === 0", "value": -8}, "value": -4}}},
     "color": {"field": "s", "type": "nominal", "scale": {"domain": ["T1","T2","T3","T4"], "range": ["#231f20","#ec1c24","#00a651","#2e3192"]}, "legend": null},
     "detail": {"field": "s"}
   }},
  {"data": {"name": "pts"}, "mark": {"type": "circle", "size": 85, "opacity": 1},
   "encoding": {
     "color": {"field": "s", "type": "nominal", "scale": {"domain": ["T1","T2","T3","T4"], "range": ["#231f20","#ec1c24","#00a651","#2e3192"]}, "legend": null}
   }},
  {"data": {"values": [{"s":"T1","x":90.3,"y":-1.11},{"s":"T2","x":89.8,"y":-3.42},{"s":"T3","x":88.8,"y":-5.50},{"s":"T4","x":43.0,"y":-3.57}]},
   "mark": {"type": "text", "fontSize": 25, "fontWeight": "bold", "align": "center", "baseline": "middle"},
   "encoding": {
     "text": {"field": "s"},
     "color": {"field": "s", "type": "nominal", "scale": {"domain": ["T1","T2","T3","T4"], "range": ["#231f20","#ec1c24","#00a651","#2e3192"]}, "legend": null}
   }},
  {"data": {"values": [{"x":-28.6,"y":0.5,"l":"( b )"}]},
   "mark": {"type": "text", "fontSize": 38, "align": "center", "baseline": "alphabetic"},
   "encoding": {"text": {"field": "l"}}}
],
"resolve": {"axis": {"x": "independent", "y": "independent"}}
}
]
}
